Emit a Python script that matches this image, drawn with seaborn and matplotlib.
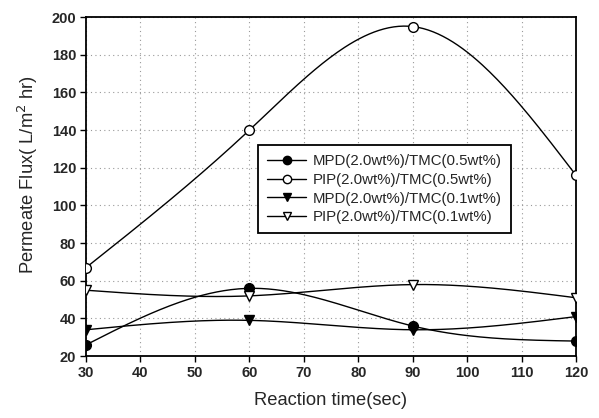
import numpy as np
import pandas as pd
import matplotlib
matplotlib.use("Agg")
import matplotlib.pyplot as plt
import seaborn as sns
from matplotlib.lines import Line2D

time_sec = [30, 60, 90, 120]
mpd_tmc05 = [26, 56, 36, 28]
pip_tmc05 = [67, 140, 195, 116]
mpd_tmc01 = [34, 39, 34, 41]
pip_tmc01 = [55, 52, 58, 51]
series_names = ["MPD(2.0wt%)/TMC(0.5wt%)", "PIP(2.0wt%)/TMC(0.5wt%)",
                "MPD(2.0wt%)/TMC(0.1wt%)", "PIP(2.0wt%)/TMC(0.1wt%)"]
x_ticks = [30, 40, 50, 60, 70, 80, 90, 100, 110, 120]
y_ticks = [20, 40, 60, 80, 100, 120, 140, 160, 180, 200]


def natural_spline(x, y, n=200):
    x = np.asarray(x, float); y = np.asarray(y, float)
    m = len(x); h = np.diff(x)
    A = np.zeros((m, m)); b = np.zeros(m)
    A[0, 0] = 1; A[-1, -1] = 1
    for i in range(1, m - 1):
        A[i, i - 1] = h[i - 1]; A[i, i] = 2 * (h[i - 1] + h[i]); A[i, i + 1] = h[i]
        b[i] = 3 * ((y[i + 1] - y[i]) / h[i] - (y[i] - y[i - 1]) / h[i - 1])
    c = np.linalg.solve(A, b)
    xs = np.linspace(x[0], x[-1], n); ys = np.empty_like(xs)
    for k, xv in enumerate(xs):
        i = min(np.searchsorted(x, xv, side="right") - 1, m - 2)
        dx = xv - x[i]
        bi = (y[i + 1] - y[i]) / h[i] - h[i] * (2 * c[i] + c[i + 1]) / 3
        di = (c[i + 1] - c[i]) / (3 * h[i])
        ys[k] = y[i] + bi * dx + c[i] * dx ** 2 + di * dx ** 3
    return xs, ys


sns.set_style("white")
plt.rcParams['font.family'] = ['Liberation Sans', 'DejaVu Sans']

fig = plt.figure(figsize=(5.99, 4.18), dpi=100)
ax = fig.add_axes([0.1436, 0.148, 0.818, 0.811])

data = [mpd_tmc05, pip_tmc05, mpd_tmc01, pip_tmc01]
markers = ["o", "o", "v", "v"]
faces = ["black", "white", "black", "white"]

for name, vals, mk, fc in zip(series_names, data, markers, faces):
    xs, ys = natural_spline(time_sec, vals)
    ax.plot(xs, ys, color="black", lw=1.0, zorder=2)
    df = pd.DataFrame({"t": time_sec, "v": vals})
    sns.lineplot(data=df, x="t", y="v", ax=ax, linestyle="none", marker=mk,
                 markersize=7, markerfacecolor=fc, markeredgecolor="black",
                 markeredgewidth=1.0, color="black", zorder=3)

handles = [Line2D([], [], color="black", lw=1.0, marker=mk, markersize=6,
                  markerfacecolor=fc, markeredgecolor="black")
           for mk, fc in zip(markers, faces)]
leg = ax.legend(handles, series_names, loc="upper left",
                bbox_to_anchor=(258 / 599, 1 - 145 / 418), bbox_transform=fig.transFigure,
                frameon=True, fancybox=False, framealpha=1, edgecolor="black",
                fontsize=10.8, handlelength=2.6, handletextpad=0.45,
                labelspacing=0.32, borderpad=0.6, borderaxespad=0)
leg.get_frame().set_linewidth(1.3)

ax.set_xlim(30, 120)
ax.set_ylim(20, 200)
ax.set_xticks(x_ticks)
ax.set_yticks(y_ticks)
ax.set_xticklabels([str(v) for v in x_ticks], fontweight="bold", fontsize=10.5)
ax.set_yticklabels([str(v) for v in y_ticks], fontweight="bold", fontsize=10.5)
ax.grid(True, color="#999999", linestyle=(0, (1, 3)), lw=0.8)
for s in ax.spines.values():
    s.set_visible(True); s.set_color("black"); s.set_linewidth(1.3)
ax.tick_params(axis="both", direction="out", length=4, width=1, color="black",
               bottom=True, left=True, pad=3)
ax.set_xlabel("Reaction time(sec)", fontsize=13.2, labelpad=9)
ax.set_ylabel("Permeate Flux( L/m$^2$ hr)", fontsize=13.2)
ax.yaxis.set_label_coords(-0.094, 0.534)

fig.savefig("out.png", dpi=100)
